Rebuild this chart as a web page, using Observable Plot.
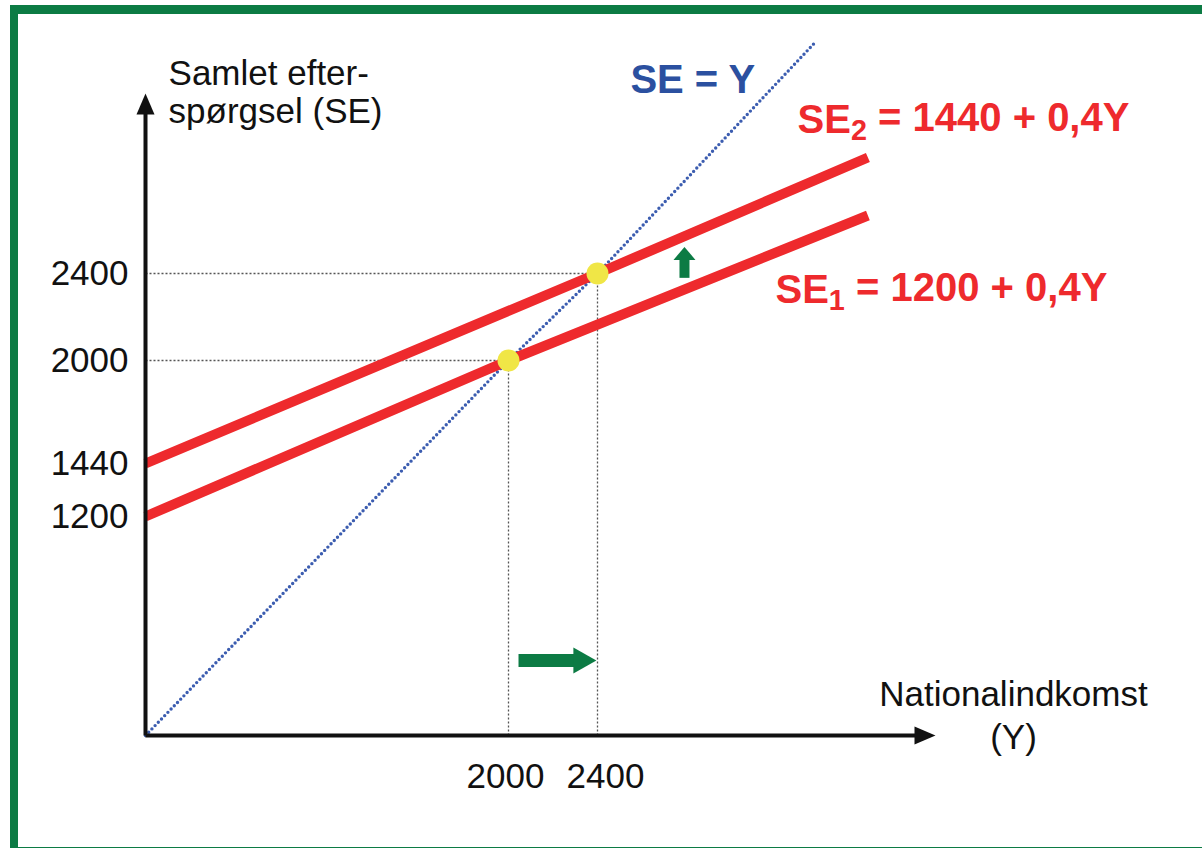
<!DOCTYPE html>
<html><head><meta charset="utf-8">
<script src="https://cdn.jsdelivr.net/npm/d3@7"></script>
<script src="https://cdn.jsdelivr.net/npm/@observablehq/plot@0.6"></script>
<style>
html,body{margin:0;padding:0;background:#fff;overflow:hidden;width:1202px;height:848px;}
#chart{position:absolute;left:0;top:0;}
#border{position:absolute;left:10px;top:5px;width:1300px;height:850px;box-sizing:border-box;border:solid #0c7b44;border-width:9px 8px 8px 8px;pointer-events:none;}
</style></head><body>
<div id="chart"></div><div id="border"></div>
<script>
// ---- data ----
const incomeTicks = [2000, 2400];              // Y tick labels
const demandTicks = [1200, 1440, 2000, 2400];  // SE tick labels
const se1Income = [0, 2000, 3600];
const se1Demand = [1200, 2000, 2640];          // SE1 = 1200 + 0,4Y
const se2Income = [0, 2400, 3600];
const se2Demand = [1440, 2400, 2880];          // SE2 = 1440 + 0,4Y
const seYIncome = [0, 2000, 2400, 3370];
const seYDemand = [0, 2000, 2400, 3370];       // SE = Y
const eqIncome = [2000, 2400];
const eqDemand = [2000, 2400];
const shiftRightIncome = [2045, 2300, 2395];   // green arrow along Y (start, head base, tip)
const shiftRightDemand = 411;
const shiftUpIncome = 2786;
const shiftUpDemand = [2380, 2458, 2510];      // green arrow up (start, head base, tip)
const yTitle = "Samlet efter-\nspørgsel (SE)";
const xTitle = "Nationalindkomst\n(Y)";
const seYLabel = "SE = Y";
const se1Label = "SE\u2081 = 1200 + 0,4Y";
const se2Label = "SE\u2082 = 1440 + 0,4Y";

// ---- schematic (piecewise) scales ----
const xDomain = [0, 2000, 2400, 3900];
const xRange = [145, 508, 597, 935];
const yDomain = [0, 1200, 1440, 2000, 2400, 2880, 3150];
const yRange = [735, 516, 463, 360, 273, 157, 93];

const pts = (xs, ys) => xs.map((x, i) => ({x, y: ys[i]}));
const eq = pts(eqIncome, eqDemand);
const red = "#ee2a2d";
const green = "#0c7b44";
const font = "'Liberation Sans', Arial, Helvetica, sans-serif";

const axisLines = [
  {x1: 0, y1: 0, x2: 0, y2: yDomain.at(-1) - 70},
  {x1: 0, y1: 0, x2: xDomain.at(-1) - 80, y2: 0}
];
const axisHeads = [
  {x: 0, y: yDomain.at(-1), rotate: 0},
  {x: xDomain.at(-1), y: 0, rotate: 90}
];
const tickOpts = {anchor: "bottom", tickSize: 0, tickPadding: 28, fontSize: 35, tickFormat: d => String(d), label: null};

const plot = Plot.plot({
  width: 1202, height: 848,
  marginLeft: 145, marginBottom: 113, marginTop: 0, marginRight: 0,
  style: {fontFamily: font, background: "transparent", color: "#111", overflow: "visible"},
  x: {type: "linear", domain: xDomain, range: xRange},
  y: {type: "linear", domain: yDomain, range: yRange},
  marks: [
    // dotted guide lines
    Plot.link(eq, {x1: 0, y1: "y", x2: "x", y2: "y", stroke: "#555", strokeWidth: 1.3, strokeDasharray: "2,2"}),
    Plot.link(eq, {x1: "x", y1: 0, x2: "x", y2: "y", stroke: "#555", strokeWidth: 1.3, strokeDasharray: "2,2"}),
    // SE = Y
    Plot.line(pts(seYIncome, seYDemand), {x: "x", y: "y", stroke: "#3c5db0", strokeWidth: 3.4, strokeDasharray: "0,4.6", strokeLinecap: "round"}),
    // SE lines
    Plot.line(pts(se1Income, se1Demand), {x: "x", y: "y", stroke: red, strokeWidth: 10, strokeLinecap: "butt"}),
    Plot.line(pts(se2Income, se2Demand), {x: "x", y: "y", stroke: red, strokeWidth: 10, strokeLinecap: "butt"}),
    // equilibria
    Plot.dot(eq, {x: "x", y: "y", r: 11, fill: "#f0e646", stroke: "none"}),
    // green shift arrows
    Plot.link([0], {x1: () => shiftRightIncome[0], x2: () => shiftRightIncome[1], y1: () => shiftRightDemand, y2: () => shiftRightDemand, stroke: green, strokeWidth: 13}),
    Plot.vector([0], {x: () => shiftRightIncome[2], y: () => shiftRightDemand, rotate: 90, shape: "spike", anchor: "end", length: 23, r: 13, fill: green, fillOpacity: 1, stroke: "none"}),
    Plot.link([0], {x1: () => shiftUpIncome, x2: () => shiftUpIncome, y1: () => shiftUpDemand[0], y2: () => shiftUpDemand[1], stroke: green, strokeWidth: 10}),
    Plot.vector([0], {x: () => shiftUpIncome, y: () => shiftUpDemand[2], rotate: 0, shape: "spike", anchor: "end", length: 13, r: 11, fill: green, fillOpacity: 1, stroke: "none"}),
    // axes with arrowheads
    Plot.link(axisLines, {x1: "x1", y1: "y1", x2: "x2", y2: "y2", stroke: "#111", strokeWidth: 4}),
    Plot.vector(axisHeads, {x: "x", y: "y", rotate: "rotate", shape: "spike", anchor: "end", length: 21, r: 9, fill: "#111", fillOpacity: 1, stroke: "none"}),
    Plot.axisY({ticks: demandTicks, anchor: "left", tickSize: 0, tickPadding: 17, fontSize: 35, tickFormat: d => String(d), label: null}),
    Plot.axisX({...tickOpts, ticks: incomeTicks.slice(0, 1), dx: -3}),
    Plot.axisX({...tickOpts, ticks: incomeTicks.slice(1), dx: 8}),
    // titles and labels
    Plot.text([yTitle], {x: 127, y: 3300, text: d => d, textAnchor: "start", lineAnchor: "top", fontSize: 35, lineHeight: 1.08, fill: "#111"}),
    Plot.text([xTitle], {x: 4246, y: 334, text: d => d, textAnchor: "middle", lineAnchor: "top", fontSize: 35, lineHeight: 1.25, fill: "#111"}),
    Plot.text([seYLabel], {x: 2546, y: 3205, text: d => d, textAnchor: "start", lineAnchor: "middle", fontSize: 40, fontWeight: "bold", fill: "#2b50a0"}),
    Plot.text([se2Label], {x: 3288, y: 3036, text: d => d, textAnchor: "start", lineAnchor: "middle", fontSize: 40, fontWeight: "bold", fill: red}),
    Plot.text([se1Label], {x: 3190, y: 2322, text: d => d, textAnchor: "start", lineAnchor: "middle", fontSize: 40, fontWeight: "bold", fill: red})
  ]
});

// render Unicode subscript digits as real subscripts
d3.select(plot).selectAll("text").each(function () {
  const t = this.textContent;
  const m = t.match(/^(.*?)([\u2080-\u2089])(.*)$/);
  if (!m || this.querySelector("tspan")) return;
  const sub = String.fromCharCode(m[2].charCodeAt(0) - 0x2080 + 48);
  const el = d3.select(this).text(null);
  el.append("tspan").text(m[1]);
  el.append("tspan").attr("dy", "0.22em").attr("font-size", "0.72em").text(sub);
  el.append("tspan").attr("dy", "-0.22em").text(m[3]);
});

document.getElementById("chart").appendChild(plot);
</script>
</body></html>
